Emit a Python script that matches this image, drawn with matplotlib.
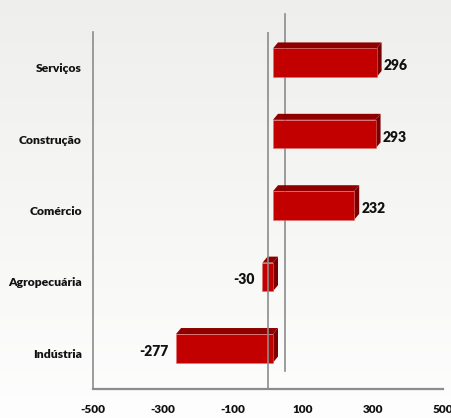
import numpy as np
import matplotlib
matplotlib.use("Agg")
import matplotlib.pyplot as plt
from matplotlib.patches import Polygon
from matplotlib.transforms import ScaledTranslation

categories = ["Indústria", "Agropecuária", "Comércio", "Construção", "Serviços"]
values = [-277, -30, 232, 293, 296]
value_labels = ["-277", "-30", "232", "293", "296"]
xticks = [-500, -300, -100, 100, 300, 500]
xtick_labels = ["-500", "-300", "-100", "100", "300", "500"]

plt.rcParams["font.family"] = ["Lato", "DejaVu Sans"]
WEIGHT = "heavy"

DPI = 100
fig = plt.figure(figsize=(4.52, 4.18), dpi=DPI)

# soft vertical background gradient
bg = fig.add_axes([0, 0, 1, 1], zorder=-10)
grad = np.linspace(0, 1, 256).reshape(-1, 1)
top_c = np.array([0.935, 0.935, 0.925])
bot_c = np.array([0.995, 0.995, 0.995])
img = top_c + (bot_c - top_c) * grad
bg.imshow(img.reshape(256, 1, 3), aspect="auto", extent=[0, 1, 0, 1], origin="upper")
bg.axis("off")

ax = fig.add_axes([93 / 452, (418 - 389) / 418, 350 / 452, 357 / 418])
ax.set_facecolor("none")
ax.set_xlim(-500, 500)
ax.set_ylim(-0.5, len(categories) - 0.5)

axis_col = "#8c8c8c"
for s in ["top", "right"]:
    ax.spines[s].set_visible(False)
ax.spines["left"].set_color(axis_col)
ax.spines["bottom"].set_color(axis_col)
ax.spines["left"].set_linewidth(1.2)
ax.spines["bottom"].set_linewidth(1.6)

ax.set_xticks(xticks)
ax.set_xticklabels(xtick_labels, fontsize=8.5, fontweight=WEIGHT, color="#111111")
ax.set_yticks(range(len(categories)))
ax.set_yticklabels(categories, fontsize=8.7, fontweight=WEIGHT, color="#111111")
ax.tick_params(axis="x", length=0, pad=10.5)
ax.tick_params(axis="y", length=0, pad=8)

fig.canvas.draw()

front_c = "#c30000"
top_col = "#8e0000"
side_col = "#7a0000"

half = 0.2
front_off = (5, 5)   # pixel offset of the front face
depth = (5, 6)       # pixel depth of the 3D slab

to_disp = ax.transData.transform
to_data = ax.transData.inverted().transform


def shifted(pt, off):
    d = to_disp(pt) + np.array(off)
    return to_data(d)


for i, v in enumerate(values):
    x0, x1 = min(0, v), max(0, v)
    y0, y1 = i - half, i + half
    fo = front_off
    bo = (front_off[0] + depth[0], front_off[1] + depth[1])
    front = [shifted((x0, y0), fo), shifted((x1, y0), fo),
             shifted((x1, y1), fo), shifted((x0, y1), fo)]
    topf = [shifted((x0, y1), fo), shifted((x1, y1), fo),
            shifted((x1, y1), bo), shifted((x0, y1), bo)]
    side = [shifted((x1, y0), fo), shifted((x1, y0), bo),
            shifted((x1, y1), bo), shifted((x1, y1), fo)]
    ax.add_patch(Polygon(side, closed=True, facecolor=side_col, edgecolor="none", zorder=2))
    ax.add_patch(Polygon(topf, closed=True, facecolor=top_col, edgecolor="none", zorder=2))
    ax.add_patch(Polygon(front, closed=True, facecolor=front_c, edgecolor="#e07070",
                         linewidth=0.4, zorder=3))

    # value labels
    if v >= 0:
        ax.annotate(value_labels[i], xy=(v, i), xytext=(front_off[0] + depth[0] + 2, front_off[1] - 3),
                    textcoords="offset pixels", ha="left", va="center",
                    fontsize=10, fontweight=WEIGHT, color="#111111", zorder=5)
    else:
        ax.annotate(value_labels[i], xy=(v, i), xytext=(front_off[0] - 8, front_off[1] - 3),
                    textcoords="offset pixels", ha="right", va="center",
                    fontsize=10, fontweight=WEIGHT, color="#111111", zorder=5)

# zero line at the front of the plot and its copy on the back wall
ax.axvline(0, color=axis_col, linewidth=1.2, zorder=4)
back = ax.transData + ScaledTranslation(17 / DPI, 18 / DPI, fig.dpi_scale_trans)
ax.plot([0, 0], [-0.5, len(categories) - 0.5], color=axis_col, linewidth=1.2,
        transform=back, clip_on=False, zorder=1)

fig.savefig("out.png", dpi=DPI)
